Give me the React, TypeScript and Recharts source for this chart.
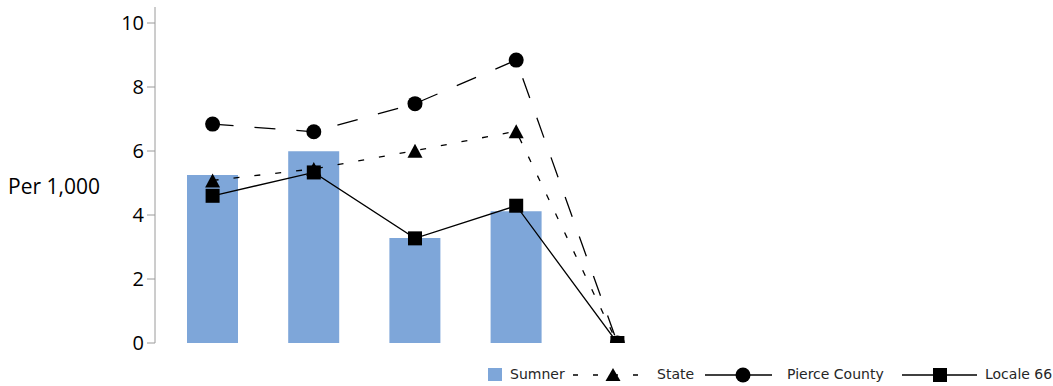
import React from 'react';
import { ComposedChart, Bar, Line, XAxis, YAxis, Legend } from 'recharts';

const categories = ['Group 1', 'Group 2', 'Group 3', 'Group 4', 'Group 5'];
const sumnerValues = [5.25, 5.99, 3.28, 4.12, 0];
const stateValues = [5.08, 5.44, 6.01, 6.62, 0];
const pierceValues = [6.84, 6.6, 7.48, 8.84, 0];
const localeValues = [4.6, 5.33, 3.27, 4.29, 0];
const yTicks = [0, 2, 4, 6, 8, 10];
const seriesNames = ['Sumner', 'State', 'Pierce County', 'Locale 66'];

const data = categories.map((c, i) => ({
  category: c,
  sumner: sumnerValues[i],
  state: stateValues[i],
  pierce: pierceValues[i],
  locale: localeValues[i],
}));

const BAR_COLOR = '#7EA6D9';
const INK = '#000000';

const TriangleDot = (props: any) => {
  const { cx, cy, index } = props;
  if (cx == null || cy == null) return <g key={`t-${index}`} />;
  return (
    <polygon
      key={`t-${index}`}
      points={`${cx},${cy - 7} ${cx + 7.5},${cy + 7} ${cx - 7.5},${cy + 7}`}
      fill={INK}
    />
  );
};

const CircleDot = (props: any) => {
  const { cx, cy, index } = props;
  if (cx == null || cy == null) return <g key={`c-${index}`} />;
  return <circle key={`c-${index}`} cx={cx} cy={cy} r={7.5} fill={INK} />;
};

const SquareDot = (props: any) => {
  const { cx, cy, index } = props;
  if (cx == null || cy == null) return <g key={`s-${index}`} />;
  return <rect key={`s-${index}`} x={cx - 7} y={cy - 7} width={14} height={14} fill={INK} />;
};

const legendTextStyle: React.CSSProperties = {
  position: 'absolute',
  top: 1,
  height: 26,
  lineHeight: '26px',
  fontFamily: '"DejaVu Sans", sans-serif',
  fontSize: 14,
  color: '#262626',
  whiteSpace: 'nowrap',
};

const LegendContent = () => (
  <div style={{ position: 'relative', width: 1053, height: 26 }}>
    <svg width={1053} height={26} style={{ position: 'absolute', left: 0, top: 0 }}>
      <rect x={488} y={8} width={14} height={13} fill={BAR_COLOR} />
      <line x1={573} y1={15} x2={643} y2={15} stroke={INK} strokeWidth={1.3} strokeDasharray="5 15" />
      <polygon points={`613,8 620.5,21 605.5,21`} fill={INK} />
      <line x1={705} y1={15} x2={772} y2={15} stroke={INK} strokeWidth={1.3} />
      <circle cx={743} cy={15} r={7.5} fill={INK} />
      <line x1={902} y1={15} x2={977} y2={15} stroke={INK} strokeWidth={1.3} />
      <rect x={933} y={8} width={14} height={14} fill={INK} />
    </svg>
    <span style={{ ...legendTextStyle, left: 510 }}>{seriesNames[0]}</span>
    <span style={{ ...legendTextStyle, left: 657 }}>{seriesNames[1]}</span>
    <span style={{ ...legendTextStyle, left: 787 }}>{seriesNames[2]}</span>
    <span style={{ ...legendTextStyle, left: 985 }}>{seriesNames[3]}</span>
  </div>
);

const YLabel = (props: any) => {
  const vb = props.viewBox || {};
  return (
    <text
      x={vb.x}
      y={vb.y + vb.height / 2 + 11}
      dominantBaseline="central"
      textAnchor="start"
      fontFamily='"Open Sans", sans-serif'
      fontSize={21}
      fill="#000"
    >
      Per 1,000
    </text>
  );
};

export default function App() {
  return (
    <div style={{ position: 'absolute', left: 0, top: 0, width: 1053, height: 386, background: '#fff' }}>
      <ComposedChart
        width={1053}
        height={386}
        data={data}
        margin={{ top: 7, right: 385, bottom: 17, left: 8 }}
      >
        <XAxis dataKey="category" hide padding={{ left: 7, right: 0 }} />
        <YAxis
          width={147}
          domain={[0, 10.5]}
          ticks={yTicks}
          allowDataOverflow
          stroke="#9a9a9a"
          tickSize={8}
          tickMargin={3}
          tick={{ fill: '#000', fontSize: 20, fontFamily: '"Open Sans", sans-serif' }}
          label={{ content: <YLabel />, position: 'insideLeft' }}
        />
        <Legend
          verticalAlign="bottom"
          content={<LegendContent />}
          wrapperStyle={{ left: 0, bottom: 0, width: 1053, height: 26 }}
        />
        <Bar dataKey="sumner" name={seriesNames[0]} fill={BAR_COLOR} barSize={51} isAnimationActive={false} />
        <Line
          dataKey="state"
          name={seriesNames[1]}
          stroke={INK}
          strokeWidth={1.3}
          strokeDasharray="6 15"
          dot={TriangleDot}
          activeDot={false}
          isAnimationActive={false}
        />
        <Line
          dataKey="pierce"
          name={seriesNames[2]}
          stroke={INK}
          strokeWidth={1.3}
          strokeDasharray="21 21"
          dot={CircleDot}
          activeDot={false}
          isAnimationActive={false}
        />
        <Line
          dataKey="locale"
          name={seriesNames[3]}
          stroke={INK}
          strokeWidth={1.3}
          dot={SquareDot}
          activeDot={false}
          isAnimationActive={false}
        />
      </ComposedChart>
    </div>
  );
}
